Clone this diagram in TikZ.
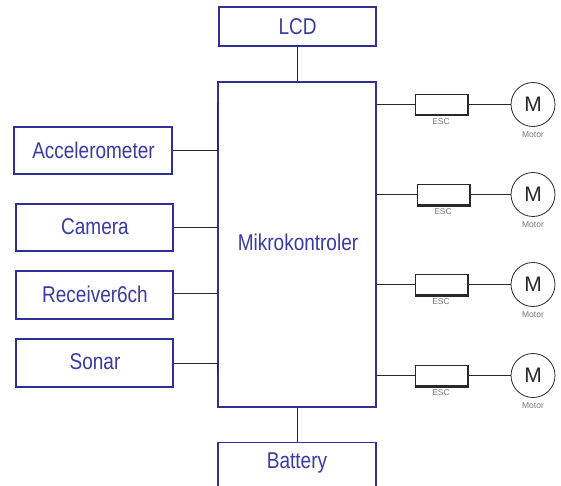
\documentclass[tikz,border=0pt]{standalone}
\usepackage{fontspec}
\setmainfont{Liberation Sans}
\usepackage{graphicx}
\definecolor{bluebd}{RGB}{48,48,150}
\definecolor{bluetx}{RGB}{58,58,165}
\definecolor{wire}{RGB}{40,40,40}
\definecolor{smalltx}{RGB}{120,120,120}
\tikzset{
  blk/.style={draw=bluebd, line width=1.3pt, fill=white, rectangle, inner sep=0pt},
  bigtxt/.style={text=bluetx, font=\fontsize{19}{20}\selectfont, inner sep=0pt},
  escbox/.style={draw=wire, line width=1pt, fill=white, rectangle, minimum width=52pt, minimum height=20pt, inner sep=0pt},
  motor/.style={draw=wire, line width=0.8pt, fill=white, circle, minimum size=44pt, inner sep=0pt, font=\fontsize{21}{21}\selectfont, text=wire},
  small/.style={text=smalltx, font=\fontsize{8.5}{9}\selectfont, inner sep=0pt},
  wireln/.style={draw=wire, line width=0.9pt},
  shadowln/.style={draw=wire, line width=1.4pt}
}
\newcommand{\tall}[1]{\scalebox{1}[1.2]{#1}}
\begin{document}
\begin{tikzpicture}[x=1pt, y=-1pt]
\useasboundingbox (0,0) rectangle (561,486);
\clip (0,0) rectangle (561,486);
% boxes
\node[blk, minimum width=157pt, minimum height=39pt] (lcd) at (297.5,26.5) {};
\node[bigtxt] (lcdt) at (297.5,26.5) {\tall{LCD}};
\node[blk, minimum width=158pt, minimum height=325pt] (mk) at (297,244.5) {};
\node[bigtxt] (mkt) at (298,242) {\tall{Mikrokontroler}};
\node[blk, minimum width=158pt, minimum height=60pt, anchor=north] (bat) at (297,442) {};
\node[bigtxt] (batt) at (297,463) {\tall{Battery}};
\node[blk, minimum width=158pt, minimum height=47pt] (acc) at (93,150.5) {};
\node[bigtxt] (acct) at (93.5,150) {\tall{Accelerometer}};
\node[blk, minimum width=157pt, minimum height=47pt] (cam) at (94.5,227.5) {};
\node[bigtxt] (camt) at (95,227) {\tall{Camera}};
\node[blk, minimum width=157pt, minimum height=48pt] (rec) at (94.5,295) {};
\node[bigtxt] (rect) at (95,294) {\tall{Receiver6ch}};
\node[blk, minimum width=157pt, minimum height=48pt] (son) at (94.5,363) {};
\node[bigtxt] (sont) at (95,362) {\tall{Sonar}};
% vertical links
\draw[wireln] (lcd.south) -- (lcd.south |- mk.north);
\draw[wireln] (mk.south) -- (bat.north);
% left links
\draw[wireln] (acc.east) -- (acc.east -| mk.west) -- ++(0,-47);
\draw[wireln] (cam.east) -- (cam.east -| mk.west);
\draw[wireln] (rec.east) ++(0,-2) coordinate (recc) -- (recc -| mk.west);
\draw[wireln] (son.east) -- (son.east -| mk.west) -- ++(0,9);
% right side
\foreach \i/\ex/\y in {1/441/104.5, 2/443/194.5, 3/441/284.5, 4/441/375.5}{
  \node[escbox] (esc\i) at (\ex,\y) {};
  \draw[shadowln] ([xshift=0.8pt]esc\i.north east) -- ([xshift=0.8pt,yshift=-0.8pt]esc\i.south east) -- ([yshift=-0.8pt]esc\i.south west);
  \node[small] (escl\i) at (\ex,\y+17) {ESC};
  \node[motor] (mot\i) at (533,\y) {M};
  \node[small] (motl\i) at (533,\y+30) {Motor};
  \draw[wireln] (esc\i.west -| mk.east) -- (esc\i.west);
  \draw[wireln] (esc\i.east) -- (mot\i.west);
}
\end{tikzpicture}
\end{document}
